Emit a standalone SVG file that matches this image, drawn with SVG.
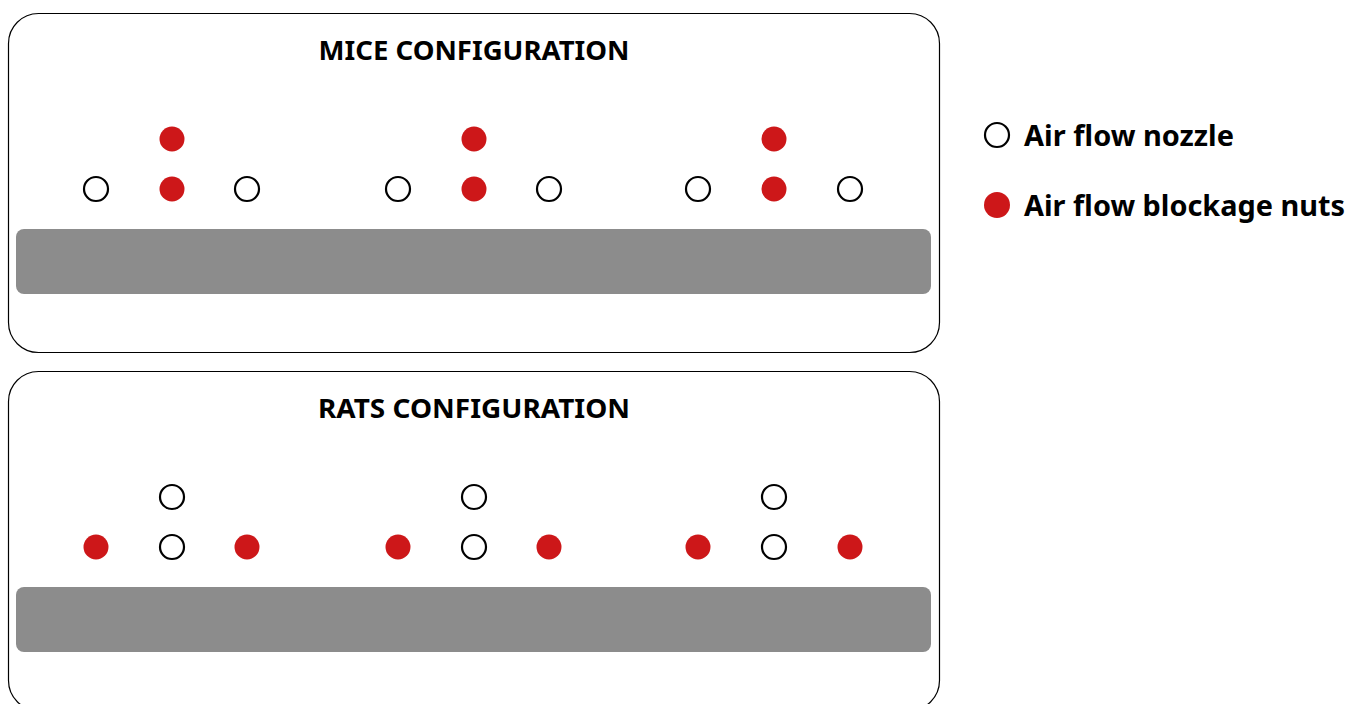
<svg xmlns="http://www.w3.org/2000/svg" width="1358" height="704" viewBox="0 0 1358 704">
<style>
.panel{fill:#fff;stroke:#000;stroke-width:1.2}
.bar{fill:#8c8c8c}
.noz{fill:#fff;stroke:#000;stroke-width:2.2}
.nut{fill:#cd1719}
.t{font-family:"Noto Sans","Liberation Sans",sans-serif;font-weight:700;fill:#000}
.title{font-size:27px;text-anchor:middle}
.leg{font-size:28px}
</style>
<rect width="1358" height="704" fill="#fff"/>
<g id="mice">
<rect class="panel" x="8.5" y="13.5" width="931" height="339" rx="30"/>
<text class="t title" x="474" y="60" textLength="311" lengthAdjust="spacingAndGlyphs">MICE CONFIGURATION</text>
<rect class="bar" x="16" y="229" width="915" height="65" rx="8"/>
<circle class="nut" cx="172" cy="139" r="12.5"/>
<circle class="nut" cx="474" cy="139" r="12.5"/>
<circle class="nut" cx="774" cy="139" r="12.5"/>
<circle class="noz" cx="96" cy="189" r="12"/>
<circle class="nut" cx="172" cy="189" r="12.5"/>
<circle class="noz" cx="247" cy="189" r="12"/>
<circle class="noz" cx="398" cy="189" r="12"/>
<circle class="nut" cx="474" cy="189" r="12.5"/>
<circle class="noz" cx="549" cy="189" r="12"/>
<circle class="noz" cx="698" cy="189" r="12"/>
<circle class="nut" cx="774" cy="189" r="12.5"/>
<circle class="noz" cx="850" cy="189" r="12"/>
</g>
<g id="rats">
<rect class="panel" x="8.5" y="371.5" width="931" height="339" rx="30"/>
<text class="t title" x="474" y="418" textLength="312" lengthAdjust="spacingAndGlyphs">RATS CONFIGURATION</text>
<rect class="bar" x="16" y="587" width="915" height="65" rx="8"/>
<circle class="noz" cx="172" cy="497" r="12"/>
<circle class="noz" cx="474" cy="497" r="12"/>
<circle class="noz" cx="774" cy="497" r="12"/>
<circle class="nut" cx="96" cy="547" r="12.5"/>
<circle class="noz" cx="172" cy="547" r="12"/>
<circle class="nut" cx="247" cy="547" r="12.5"/>
<circle class="nut" cx="398" cy="547" r="12.5"/>
<circle class="noz" cx="474" cy="547" r="12"/>
<circle class="nut" cx="549" cy="547" r="12.5"/>
<circle class="nut" cx="698" cy="547" r="12.5"/>
<circle class="noz" cx="774" cy="547" r="12"/>
<circle class="nut" cx="850" cy="547" r="12.5"/>
</g>
<g id="legend">
<circle class="noz" cx="997" cy="135" r="12"/>
<text class="t leg" x="1024" y="146" textLength="210" lengthAdjust="spacingAndGlyphs">Air flow nozzle</text>
<circle class="nut" cx="997" cy="205" r="13"/>
<text class="t leg" x="1024" y="216" textLength="321" lengthAdjust="spacingAndGlyphs">Air flow blockage nuts</text>
</g>
<g id="connectors"/>
</svg>
